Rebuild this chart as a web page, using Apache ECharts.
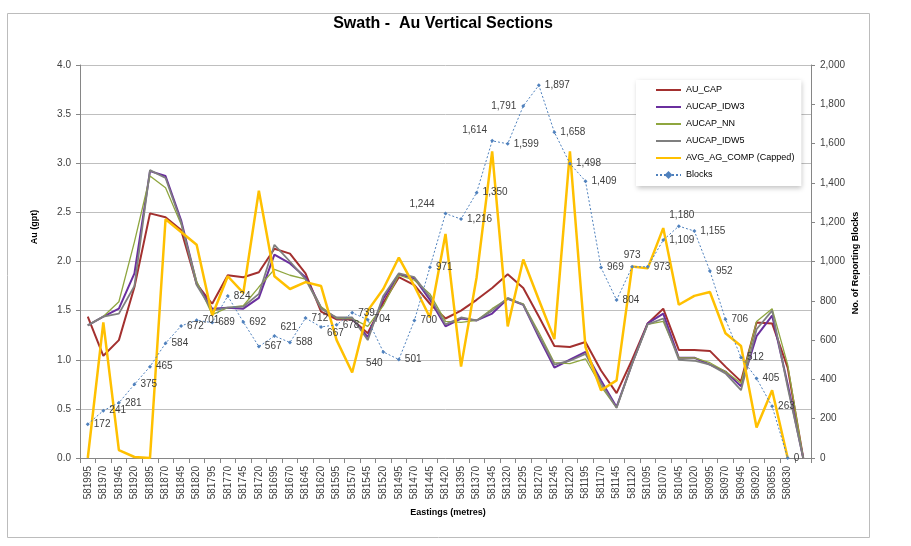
<!DOCTYPE html>
<html><head><meta charset="utf-8">
<script src="https://cdn.jsdelivr.net/npm/echarts@6/dist/echarts.min.js"></script>
<style>html,body{margin:0;padding:0;background:#fff}#c{width:911px;height:546px}</style>
</head><body><div id="c"></div>
<script>
const categories = ['581995','581970','581945','581920','581895','581870','581845','581820','581795','581770','581745','581720','581695','581670','581645','581620','581595','581570','581545','581520','581495','581470','581445','581420','581395','581370','581345','581320','581295','581270','581245','581220','581195','581170','581145','581120','581095','581070','581045','581020','580995','580970','580945','580920','580855','580830',''];
const auCap = [1.44,1.04,1.20,1.74,2.49,2.45,2.32,1.77,1.57,1.86,1.84,1.89,2.13,2.08,1.88,1.49,1.41,1.41,1.27,1.58,1.84,1.76,1.57,1.42,1.50,1.61,1.73,1.87,1.73,1.44,1.14,1.13,1.18,0.89,0.66,1.00,1.37,1.52,1.10,1.10,1.09,0.93,0.78,1.38,1.37,0.92,0];
const aucapIdw3 = [1.35,1.44,1.52,1.88,2.92,2.87,2.42,1.78,1.52,1.53,1.52,1.63,2.07,1.98,1.84,1.53,1.42,1.42,1.23,1.62,1.87,1.83,1.61,1.34,1.42,1.40,1.47,1.62,1.56,1.23,0.92,1.00,1.08,0.79,0.52,0.96,1.37,1.47,1.02,1.02,0.95,0.88,0.73,1.24,1.45,0.75,0];
const aucapNn = [1.35,1.44,1.59,2.20,2.87,2.75,2.38,1.80,1.46,1.53,1.55,1.74,1.92,1.86,1.82,1.54,1.42,1.42,1.34,1.55,1.86,1.81,1.67,1.39,1.38,1.40,1.52,1.62,1.57,1.28,0.97,0.96,1.01,0.73,0.51,0.96,1.36,1.39,1.02,1.02,0.97,0.88,0.76,1.39,1.52,0.95,0];
const aucapIdw5 = [1.35,1.44,1.47,1.75,2.93,2.85,2.40,1.76,1.50,1.53,1.54,1.67,2.17,2.00,1.82,1.52,1.43,1.43,1.20,1.65,1.88,1.84,1.64,1.36,1.43,1.40,1.50,1.63,1.56,1.25,0.95,0.99,1.06,0.76,0.51,0.96,1.36,1.42,1.00,0.99,0.95,0.86,0.69,1.31,1.50,0.72,0];
const avgAgComp = [0.00,1.38,0.08,0.01,0.00,2.43,2.30,2.17,1.45,1.85,1.68,2.72,1.85,1.72,1.79,1.75,1.20,0.87,1.50,1.72,2.04,1.75,1.43,2.28,0.93,1.84,3.12,1.34,2.02,1.61,1.21,3.12,1.13,0.69,0.79,1.95,1.93,2.34,1.56,1.65,1.69,1.27,1.14,0.31,0.69,0.00,null];
const blocks = [172,241,281,375,465,584,672,701,689,824,692,567,621,588,712,667,678,739,704,540,501,700,971,1244,1216,1350,1614,1599,1791,1897,1658,1498,1409,969,804,973,973,1109,1180,1155,952,706,512,405,263,0,null];
const leftTicks = [0,0.5,1,1.5,2,2.5,3,3.5,4];
const rightTicks = [0,200,400,600,800,1000,1200,1400,1600,1800,2000];

const NUMF = "'Liberation Sans', Arial, sans-serif";
const fmt = v => v.toLocaleString('en-US');

// label placement overrides (style only): position, distance, dx, dy
const labelOverrides = {
  12: {position:'right', dy:-9},
  15: {position:'right', dy:6},
  19: {position:'bottom', dx:-9},
  23: {position:'left', distance:9, dy:-9},
  26: {position:'left', distance:3, dy:-11},
  28: {position:'left', distance:5},
  35: {position:'top', distance:5},
  38: {position:'top', dx:3}
};
const blocksData = blocks.map((v,i) => {
  const o = {value: v};
  const ov = labelOverrides[i];
  if (ov) {
    o.label = {position: ov.position};
    if (ov.distance != null) o.label.distance = ov.distance;
  }
  return o;
});

const chart = echarts.init(document.getElementById('c'), null, {renderer:'canvas'});
const lineSeries = (name, data, color, width) => ({
  name, type:'line', data, yAxisIndex:0, symbol:'none', showSymbol:false,
  lineStyle:{color, width}, itemStyle:{color}, connectNulls:false, animation:false
});
const hideSym = {opacity:0};
chart.setOption({
  animation:false,
  backgroundColor:'#fff',
  title:{text:'Swath -  Au Vertical Sections', left:438, top:11, textAlign:'center',
    textStyle:{fontFamily:NUMF, fontSize:16, fontWeight:'bold', color:'#000'}},
  graphic:[
    {type:'rect', z:-1, shape:{x:7.5,y:13.5,width:862,height:524}, style:{fill:'none', stroke:'#bcbcbc', lineWidth:1}},
    {type:'text', x:35, y:227, rotation:Math.PI/2, style:{text:'Au (gpt)', font:"bold 9px "+NUMF, fill:'#000', textAlign:'center', textVerticalAlign:'middle'}},
    {type:'text', x:856, y:263, rotation:Math.PI/2, style:{text:'No. of Reporting Blocks', font:"bold 9px "+NUMF, fill:'#000', textAlign:'center', textVerticalAlign:'middle'}},
    {type:'text', x:448, y:513, style:{text:'Eastings (metres)', font:"bold 9px "+NUMF, fill:'#000', textAlign:'center', textVerticalAlign:'middle'}}
  ],
  legend:{
    orient:'vertical', left:636, top:80,
    padding:[5,7,6,19], itemWidth:25, itemHeight:10, itemGap:7, itemTextGap:5,
    backgroundColor:'#fff', shadowBlur:5, shadowColor:'rgba(0,0,0,0.25)', shadowOffsetX:1, shadowOffsetY:2,
    textStyle:{fontFamily:NUMF, fontSize:9, color:'#000', lineHeight:10},
    data:[
      {name:'AU_CAP', itemStyle:hideSym},
      {name:'AUCAP_IDW3', itemStyle:hideSym},
      {name:'AUCAP_NN', itemStyle:hideSym},
      {name:'AUCAP_IDW5', itemStyle:hideSym},
      {name:'AVG_AG_COMP (Capped)', itemStyle:hideSym},
      {name:'Blocks'}
    ]
  },
  grid:{left:80, right:100, top:65, bottom:88},
  xAxis:{type:'category', data:categories, boundaryGap:true,
    axisLine:{show:true, lineStyle:{color:'#868686'}},
    axisTick:{show:true, interval:0, length:5, lineStyle:{color:'#868686'}},
    axisLabel:{rotate:90, interval:0, fontSize:10, fontFamily:NUMF, color:'#404040', margin:8},
    splitLine:{show:false}},
  yAxis:[
    {type:'value', min:leftTicks[0], max:leftTicks[leftTicks.length-1], interval:0.5,
      axisLine:{show:true, lineStyle:{color:'#868686'}},
      axisTick:{show:true, length:4, lineStyle:{color:'#868686'}},
      axisLabel:{formatter:v=>v.toFixed(1), fontSize:10, fontFamily:NUMF, color:'#404040', margin:9},
      splitLine:{show:true, lineStyle:{color:'#bfbfbf', width:1}}},
    {type:'value', position:'right', min:rightTicks[0], max:rightTicks[rightTicks.length-1], interval:200,
      axisLine:{show:true, lineStyle:{color:'#868686'}},
      axisTick:{show:true, length:4, lineStyle:{color:'#868686'}},
      axisLabel:{formatter:v=>fmt(v), fontSize:10, fontFamily:NUMF, color:'#404040', margin:9},
      splitLine:{show:false}}
  ],
  series:[
    lineSeries('AU_CAP', auCap, '#A3302F', 2),
    lineSeries('AUCAP_IDW3', aucapIdw3, '#6A2F9E', 2),
    lineSeries('AUCAP_NN', aucapNn, '#8FA63F', 1.3),
    lineSeries('AUCAP_IDW5', aucapIdw5, '#7F7F7F', 1.8),
    lineSeries('AVG_AG_COMP (Capped)', avgAgComp, '#FFC000', 2.5),
    {name:'Blocks', type:'line', yAxisIndex:1, data:blocksData,
      symbol:'diamond', symbolSize:4, showSymbol:true,
      lineStyle:{color:'#4F81BD', width:1, type:[2,2]},
      itemStyle:{color:'#4F81BD'},
      label:{show:true, position:'right', distance:4, fontSize:10, fontFamily:NUMF, color:'#404040',
        formatter:p => p.value == null ? '' : fmt(p.value)},
      labelLayout: p => {
        const ov = labelOverrides[p.dataIndex];
        if (!ov) return {};
        return {dx: ov.dx || 0, dy: ov.dy || 0};
      },
      z:3}
  ]
});
</script></body></html>
